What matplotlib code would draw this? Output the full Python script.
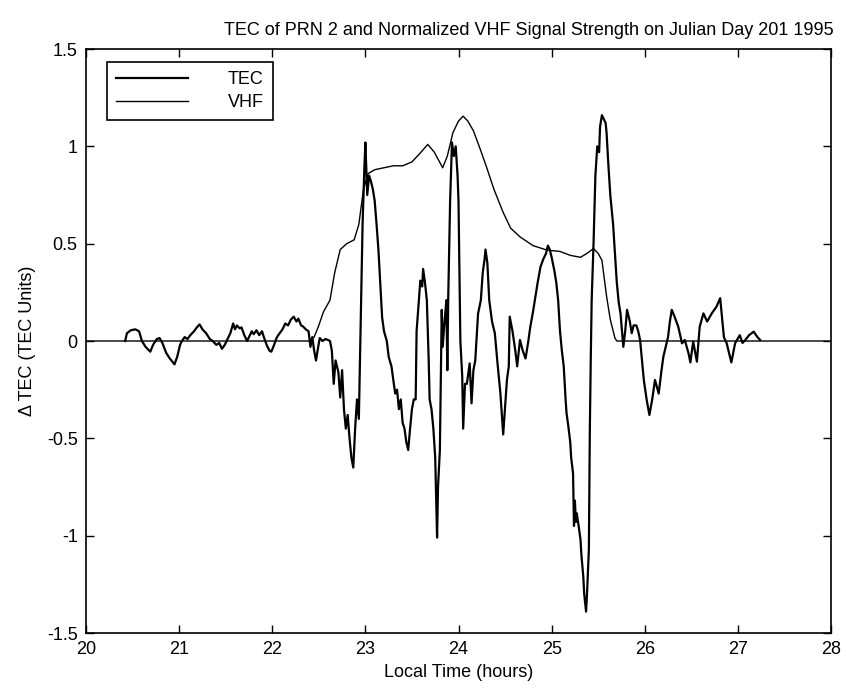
import matplotlib
matplotlib.use("Agg")
import matplotlib.pyplot as plt

plt.rcParams['font.family'] = ['Liberation Sans', 'DejaVu Sans']

tec_time = [20.42, 20.44, 20.48, 20.53, 20.57, 20.60, 20.64, 20.69, 20.72, 20.76, 20.79, 20.82, 20.86, 20.90,
            20.95, 20.98, 21.01, 21.03, 21.06, 21.09, 21.12, 21.16, 21.19, 21.22, 21.25, 21.29, 21.33, 21.36,
            21.40, 21.43, 21.46, 21.49, 21.52, 21.55, 21.58, 21.60, 21.62, 21.65, 21.67, 21.70, 21.73, 21.75,
            21.78, 21.80, 21.83, 21.86, 21.89, 21.91, 21.94, 21.97, 21.99, 22.02, 22.05, 22.08, 22.11, 22.14,
            22.17, 22.20, 22.23, 22.26, 22.28, 22.31, 22.33, 22.36, 22.39, 22.41, 22.43, 22.45, 22.47, 22.49,
            22.51, 22.54, 22.57, 22.60, 22.62, 22.64, 22.66, 22.68, 22.71, 22.73, 22.75, 22.77, 22.79, 22.81,
            22.83, 22.85, 22.87, 22.89, 22.91, 22.93, 22.95, 22.97, 22.99, 23.00, 23.02, 23.04, 23.06, 23.08,
            23.10, 23.12, 23.14, 23.16, 23.18, 23.20, 23.23, 23.25, 23.28, 23.30, 23.32, 23.34, 23.36, 23.38,
            23.40, 23.42, 23.44, 23.46, 23.48, 23.50, 23.52, 23.54, 23.55, 23.57, 23.59, 23.61, 23.62, 23.64,
            23.66, 23.68, 23.69, 23.71, 23.73, 23.75, 23.77, 23.78, 23.80, 23.81, 23.82, 23.83, 23.85, 23.87,
            23.88, 23.89, 23.91, 23.93, 23.95, 23.97, 23.99, 24.00, 24.02, 24.04, 24.05, 24.07, 24.09, 24.12,
            24.14, 24.16, 24.18, 24.21, 24.24, 24.26, 24.28, 24.29, 24.31, 24.33, 24.36, 24.39, 24.42, 24.45,
            24.48, 24.50, 24.52, 24.54, 24.55, 24.58, 24.61, 24.63, 24.66, 24.69, 24.72, 24.75, 24.77, 24.80,
            24.82, 24.85, 24.88, 24.91, 24.94, 24.96, 24.98, 25.00, 25.03, 25.05, 25.07, 25.09, 25.11, 25.13,
            25.15, 25.16, 25.18, 25.20, 25.21, 25.23, 25.24, 25.25, 25.26, 25.27, 25.29, 25.31, 25.32, 25.34,
            25.35, 25.37, 25.38, 25.40, 25.41, 25.42, 25.43, 25.45, 25.47, 25.49, 25.51, 25.52, 25.54, 25.56,
            25.58, 25.59, 25.61, 25.63, 25.66, 25.68, 25.70, 25.72, 25.74, 25.77, 25.79, 25.81, 25.84, 25.86,
            25.88, 25.91, 25.93, 25.95, 25.97, 25.99, 26.02, 26.05, 26.08, 26.11, 26.15, 26.18, 26.20, 26.25,
            26.27, 26.29, 26.32, 26.36, 26.40, 26.43, 26.47, 26.49, 26.52, 26.56, 26.59, 26.63, 26.67, 26.72,
            26.77, 26.81, 26.85, 26.88, 26.93, 26.97, 27.02, 27.05, 27.08, 27.12, 27.17, 27.21, 27.24]
tec_value = [0.0, 0.04, 0.055, 0.06, 0.05, 0.0, -0.03, -0.055, -0.02, 0.01, 0.015, -0.01, -0.06, -0.09,
             -0.12, -0.08, -0.02, 0.0, 0.02, 0.01, 0.03, 0.05, 0.07, 0.085, 0.06, 0.04, 0.01, 0.0,
             -0.02, -0.01, -0.04, -0.02, 0.01, 0.04, 0.09, 0.06, 0.08, 0.065, 0.07, 0.03, 0.0, 0.02,
             0.05, 0.035, 0.055, 0.03, 0.05, 0.02, -0.02, -0.05, -0.055, -0.02, 0.02, 0.04, 0.06, 0.09,
             0.08, 0.11, 0.125, 0.1, 0.115, 0.08, 0.075, 0.06, 0.05, -0.03, 0.02, -0.05, -0.1, -0.04,
             0.015, 0.0, 0.01, 0.005, 0.0, -0.05, -0.22, -0.1, -0.16, -0.29, -0.15, -0.35, -0.45, -0.38,
             -0.5, -0.6, -0.65, -0.45, -0.3, -0.4, 0.1, 0.6, 0.9, 1.02, 0.75, 0.85, 0.82, 0.78,
             0.72, 0.6, 0.47, 0.3, 0.12, 0.05, 0.0, -0.08, -0.13, -0.2, -0.27, -0.25, -0.35, -0.3,
             -0.42, -0.45, -0.52, -0.56, -0.45, -0.35, -0.3, -0.3, 0.05, 0.18, 0.31, 0.28, 0.37, 0.3,
             0.21, -0.1, -0.3, -0.35, -0.45, -0.6, -1.01, -0.75, -0.56, -0.2, 0.16, -0.03, 0.1, 0.21,
             -0.15, 0.23, 0.72, 1.02, 0.95, 1.0, 0.85, 0.72, 0.0, -0.18, -0.45, -0.22, -0.22, -0.115,
             -0.32, -0.15, -0.1, 0.14, 0.21, 0.35, 0.42, 0.47, 0.4, 0.21, 0.1, 0.04, -0.12, -0.27,
             -0.48, -0.34, -0.2, -0.13, 0.125, 0.05, -0.05, -0.13, 0.005, -0.05, -0.09, 0.0, 0.07, 0.15,
             0.21, 0.3, 0.38, 0.42, 0.45, 0.49, 0.47, 0.43, 0.36, 0.3, 0.21, 0.05, -0.05, -0.13,
             -0.3, -0.37, -0.44, -0.52, -0.6, -0.68, -0.95, -0.82, -0.93, -0.885, -0.95, -1.02, -1.1, -1.21,
             -1.3, -1.39, -1.3, -1.07, -0.47, -0.1, 0.21, 0.5, 0.85, 1.0, 0.97, 1.1, 1.16, 1.14,
             1.12, 1.07, 0.9, 0.75, 0.6, 0.45, 0.3, 0.2, 0.14, -0.03, 0.05, 0.16, 0.1, 0.04,
             0.08, 0.08, 0.05, 0.005, -0.1, -0.2, -0.3, -0.38, -0.3, -0.2, -0.27, -0.15, -0.08, 0.02,
             0.1, 0.16, 0.125, 0.073, -0.012, 0.005, -0.063, -0.11, -0.003, -0.106, 0.073, 0.142, 0.1, 0.142,
             0.176, 0.22, 0.02, -0.012, -0.11, -0.012, 0.03, -0.01, 0.005, 0.03, 0.048, 0.02, 0.005]

vhf_time = [20.0, 22.40, 22.45, 22.50, 22.55, 22.62, 22.67, 22.73, 22.80, 22.88, 22.93, 22.98, 23.03, 23.10,
            23.20, 23.30, 23.40, 23.50, 23.59, 23.67, 23.74, 23.83, 23.88, 23.94, 24.00, 24.05, 24.10, 24.16,
            24.23, 24.30, 24.38, 24.48, 24.56, 24.66, 24.80, 24.95, 25.09, 25.20, 25.31, 25.38, 25.45, 25.50,
            25.54, 25.59, 25.63, 25.68, 25.70, 28.0]
vhf_value = [0.0, 0.0, 0.02, 0.08, 0.15, 0.21, 0.35, 0.47, 0.50, 0.52, 0.60, 0.78, 0.86, 0.88,
             0.89, 0.90, 0.90, 0.92, 0.966, 1.01, 0.97, 0.89, 0.95, 1.07, 1.13, 1.155, 1.13, 1.08,
             0.99, 0.895, 0.78, 0.66, 0.58, 0.535, 0.49, 0.467, 0.46, 0.44, 0.43, 0.45, 0.475, 0.45,
             0.415, 0.23, 0.11, 0.015, 0.0, 0.0]

x_ticks = [20, 21, 22, 23, 24, 25, 26, 27, 28]
y_ticks = [-1.5, -1, -0.5, 0, 0.5, 1, 1.5]
y_ticklabels = ['-1.5', '-1', '-0.5', '0', '0.5', '1', '1.5']

fig = plt.figure(figsize=(8.46, 6.94), dpi=100)
ax = fig.add_axes([86/846, 1-633/694, (831-86)/846, (633-49)/694])

ax.plot(tec_time, tec_value, color='black', lw=1.6, label='TEC')
ax.plot(vhf_time, vhf_value, color='black', lw=1.0, label='VHF')

ax.set_xlim(20, 28)
ax.set_ylim(-1.5, 1.5)
ax.set_xticks(x_ticks)
ax.set_xticklabels([str(t) for t in x_ticks])
ax.set_yticks(y_ticks)
ax.set_yticklabels(y_ticklabels)
ax.tick_params(direction='in', top=True, right=True, length=6, width=1, labelsize=13, pad=6)
for s in ax.spines.values():
    s.set_linewidth(1.2)

ax.set_title('TEC of PRN 2 and Normalized VHF Signal Strength on Julian Day 201 1995',
             fontsize=13, pad=10, x=0.595)
ax.set_xlabel('Local Time (hours)', fontsize=13, labelpad=4)
ax.set_ylabel('\u0394 TEC (TEC Units)', fontsize=13, labelpad=8)

leg = ax.legend(loc='upper left', bbox_to_anchor=(107/846, 1-62/694),
                bbox_transform=fig.transFigure, fancybox=False, edgecolor='black',
                framealpha=1, fontsize=13, handlelength=4.0, handletextpad=2.2,
                borderpad=0.5, labelspacing=0.35, borderaxespad=0)
leg.get_frame().set_linewidth(1.2)

fig.savefig('out.png', dpi=100)
